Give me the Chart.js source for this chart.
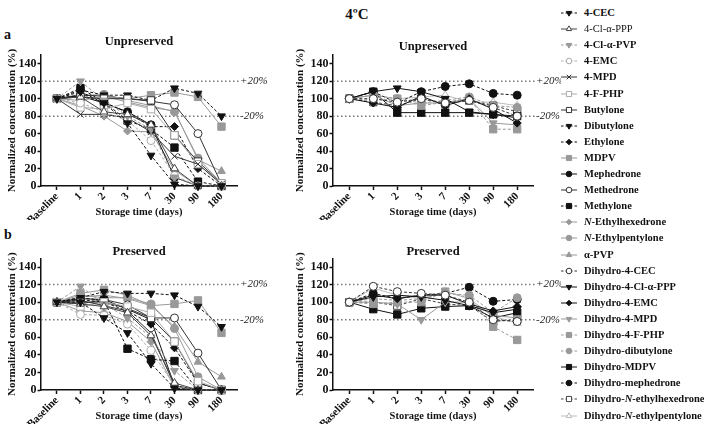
<!DOCTYPE html>
<html>
<head>
<meta charset="utf-8">
<script src="https://cdn.jsdelivr.net/npm/chart.js@4.4.1/dist/chart.umd.min.js"></script>
<style>
  body { margin: 0; background: #fff; width: 704px; height: 437px; position: relative; overflow: hidden; font-family: 'Liberation Serif', serif; color: #111; }
  canvas.panel { position: absolute; }
  .lbl { position: absolute; font-weight: bold; }
  #legend { position: absolute; left: 558px; top: 0; }
  .row { position: absolute; left: 0; height: 16px; line-height: 16px; white-space: nowrap; font-size: 10.5px; font-weight: bold; }
  .row canvas { position: absolute; left: 0; top: 2px; }
  .row span { position: absolute; left: 26px; }
</style>
</head>
<body>
<div class="lbl" style="left:307px;top:5px;width:100px;text-align:center;font-size:15px;line-height:18px;">4ºC</div>
<div class="lbl" style="left:4px;top:27px;font-size:14px;">a</div>
<div class="lbl" style="left:4px;top:227px;font-size:14px;">b</div>
<canvas class="panel" id="c1"></canvas>
<canvas class="panel" id="c2"></canvas>
<canvas class="panel" id="c3"></canvas>
<canvas class="panel" id="c4"></canvas>
<div id="legend"></div>
<script>
const timeLabels = ['Baseline', '1', '2', '3', '7', '30', '90', '180'];
const yTickValues = [0, 20, 40, 60, 80, 100, 120, 140];
const refLevels = [120, 80];
const refLabels = ['+20%', '-20%'];

const parentNames = ['4-CEC', '4-Cl-α-PPP', '4-Cl-α-PVP', '4-EMC', '4-MPD', '4-F-PHP', 'Butylone', 'Dibutylone',
  'Ethylone', 'MDPV', 'Mephedrone', 'Methedrone', 'Methylone', 'N-Ethylhexedrone', 'N-Ethylpentylone', 'α-PVP'];
const dihydroNames = ['Dihydro-4-CEC', 'Dihydro-4-Cl-α-PPP', 'Dihydro-4-EMC', 'Dihydro-4-MPD', 'Dihydro-4-F-PHP',
  'Dihydro-dibutylone', 'Dihydro-MDPV', 'Dihydro-mephedrone', 'Dihydro-N-ethylhexedrone', 'Dihydro-N-ethylpentylone'];

// one row per compound, columns follow timeLabels
const parentUnpreserved = [
  [100, 108, 95, 72, 35, 2, 0, 0],
  [100, 102, 85, 82, 70, 20, 0, 0],
  [100, 120, 98, 80, 65, 10, 0, 0],
  [100, 95, 85, 75, 52, 12, 0, 0],
  [100, 82, 82, 78, 62, 34, 25, 2],
  [100, 90, 88, 95, 88, 58, 25, 3],
  [100, 102, 100, 100, 98, 58, 28, 3],
  [100, 110, 104, 104, 98, 112, 106, 80],
  [100, 104, 96, 84, 68, 68, 20, 0],
  [100, 98, 103, 100, 104, 107, 102, 68],
  [100, 103, 95, 85, 70, 10, 0, 0],
  [100, 104, 103, 100, 97, 93, 60, 2],
  [100, 112, 96, 75, 65, 44, 5, 0],
  [100, 92, 80, 63, 62, 18, 0, 0],
  [100, 103, 105, 98, 92, 85, 32, 3],
  [100, 105, 103, 96, 90, 86, 30, 17]
];
const parentPreserved = [
  [100, 100, 82, 65, 30, 2, 0, 0],
  [100, 98, 95, 88, 62, 8, 0, 0],
  [100, 118, 98, 82, 60, 22, 0, 0],
  [100, 86, 85, 75, 45, 5, 0, 0],
  [100, 102, 96, 90, 65, 5, 0, 0],
  [100, 95, 100, 95, 88, 55, 10, 0],
  [100, 100, 100, 93, 82, 55, 8, 0],
  [100, 105, 112, 110, 110, 108, 95, 72],
  [100, 103, 100, 90, 75, 48, 8, 0],
  [100, 110, 114, 108, 96, 98, 102, 65],
  [100, 104, 103, 92, 80, 5, 0, 0],
  [100, 98, 103, 97, 82, 82, 42, 0],
  [100, 105, 102, 47, 35, 33, 0, 0],
  [100, 90, 88, 78, 55, 3, 0, 0],
  [100, 108, 105, 105, 98, 70, 15, 0],
  [100, 106, 108, 104, 96, 72, 32, 15]
];
const dihydroUnpreserved = [
  [100, 100, 96, 100, 95, 98, 90, 80],
  [100, 108, 112, 108, 100, 85, 82, 78],
  [100, 95, 90, 103, 92, 100, 88, 72],
  [100, 104, 92, 95, 95, 100, 72, 70],
  [100, 98, 100, 92, 96, 100, 65, 65],
  [100, 104, 100, 95, 98, 102, 92, 90],
  [100, 108, 84, 84, 84, 84, 82, 80],
  [100, 108, 95, 108, 114, 117, 106, 104],
  [100, 96, 92, 100, 94, 98, 92, 85],
  [100, 104, 100, 102, 104, 96, 96, 92]
];
const dihydroPreserved = [
  [100, 118, 112, 110, 108, 100, 80, 78],
  [100, 106, 108, 106, 102, 96, 88, 92],
  [100, 108, 104, 108, 108, 98, 90, 95],
  [100, 100, 98, 80, 100, 100, 85, 82],
  [100, 98, 100, 100, 112, 105, 72, 57],
  [100, 104, 102, 104, 110, 108, 88, 105],
  [100, 92, 86, 93, 95, 96, 82, 88],
  [100, 110, 104, 108, 110, 117, 101, 103],
  [100, 100, 96, 104, 98, 96, 78, 80],
  [100, 116, 108, 104, 112, 104, 84, 76]
];

// marker / line look per compound
const parentStyles = [
  {c: '#111', shape: 'triangle', rot: 180, r: 4.5, dash: true},
  {c: '#444', shape: 'triangle', r: 4.5, open: true, light: true},
  {c: '#999', shape: 'triangle', rot: 180, r: 4.5, dash: true},
  {c: '#aaa', shape: 'circle', r: 4, open: true, dash: true},
  {c: '#333', shape: 'crossRot', r: 4.5},
  {c: '#aaa', shape: 'rect', r: 5.2, open: true},
  {c: '#333', shape: 'rect', r: 5.2, open: true},
  {c: '#111', shape: 'triangle', rot: 180, r: 4.5, dash: true},
  {c: '#111', shape: 'rectRot', r: 4, dash: true},
  {c: '#999', shape: 'rect', r: 5.2},
  {c: '#111', shape: 'circle', r: 4},
  {c: '#333', shape: 'circle', r: 4, open: true},
  {c: '#111', shape: 'rect', r: 5.2, dash: true},
  {c: '#999', shape: 'rectRot', r: 4},
  {c: '#999', shape: 'circle', r: 4},
  {c: '#999', shape: 'triangle', r: 4.5}
];
const dihydroStyles = [
  {c: '#333', shape: 'circle', r: 4, open: true, dash: true},
  {c: '#111', shape: 'triangle', rot: 180, r: 4.5},
  {c: '#111', shape: 'rectRot', r: 4},
  {c: '#999', shape: 'triangle', rot: 180, r: 4.5},
  {c: '#999', shape: 'rect', r: 5.2, dash: true},
  {c: '#999', shape: 'circle', r: 4, dash: true},
  {c: '#111', shape: 'rect', r: 5.2},
  {c: '#111', shape: 'circle', r: 4, dash: true},
  {c: '#444', shape: 'rect', r: 5.2, open: true, dash: true},
  {c: '#bbb', shape: 'triangle', r: 4.5, open: true}
];

const FONT = 'Liberation Serif';

const refLines = {
  id: 'refLines',
  beforeDatasetsDraw(chart) {
    const {ctx, chartArea, scales: {y}} = chart;
    ctx.save();
    ctx.strokeStyle = '#777';
    ctx.lineWidth = 1.5;
    ctx.setLineDash([1.5, 2.5]);
    ctx.font = 'italic 11px "' + FONT + '"';
    ctx.fillStyle = '#222';
    ctx.textBaseline = 'middle';
    refLevels.forEach((lv, i) => {
      const py = y.getPixelForValue(lv);
      ctx.beginPath();
      ctx.moveTo(chartArea.left, py);
      ctx.lineTo(chartArea.right + 2, py);
      ctx.stroke();
      ctx.fillText(refLabels[i], chartArea.right + 3, py);
    });
    ctx.restore();
  }
};

function makeDataset(name, values, st) {
  return {
    label: name,
    data: values.map((v, i) => ({x: i, y: v})),
    borderColor: st.c,
    borderWidth: 1,
    borderDash: st.dash ? [3, 2] : [],
    pointStyle: st.shape,
    pointRotation: st.rot || 0,
    pointRadius: st.r,
    pointHoverRadius: st.r,
    pointBackgroundColor: st.open ? '#fff' : st.c,
    pointBorderColor: st.c,
    pointBorderWidth: 1,
    tension: 0,
    clip: false
  };
}

function makePanel(p) {
  const canvasTop = p.chartTop - 34;
  const height = p.chartBottom - canvasTop + 34;
  const width = p.chartRight - p.left + p.padRight;
  const cv = document.getElementById(p.id);
  cv.width = width;
  cv.height = height;
  cv.style.left = p.left + 'px';
  cv.style.top = canvasTop + 'px';
  cv.style.width = width + 'px';
  cv.style.height = height + 'px';
  const padTop = p.titleY - canvasTop - 6.25;

  new Chart(cv, {
    type: 'line',
    data: {
      datasets: p.names.map((n, i) => makeDataset(n, p.values[i], p.styles[i]))
    },
    options: {
      responsive: false,
      animation: false,
      layout: {padding: {left: 0, right: p.padRight, top: 0, bottom: 0}},
      plugins: {
        legend: {display: false},
        tooltip: {enabled: false},
        title: {
          display: true,
          text: p.title,
          fullSize: false,
          color: '#111',
          font: {family: FONT, size: 12.5, weight: 'bold', lineHeight: 1},
          padding: {top: padTop, bottom: Math.max(0, 21.5 - padTop)}
        }
      },
      scales: {
        x: {
          type: 'linear',
          min: -0.68,
          max: 7.66,
          afterBuildTicks: (s) => { s.ticks = timeLabels.map((_, i) => ({value: i})); },
          afterFit: (s) => { s.height = 34; },
          ticks: {
            callback: (v) => timeLabels[v],
            minRotation: 45,
            maxRotation: 45,
            padding: 0,
            color: '#111',
            font: {family: FONT, size: 11, weight: 'bold'}
          },
          grid: {drawOnChartArea: false, tickLength: 4, tickWidth: 1.5, tickColor: '#111'},
          border: {color: '#111', width: 1.5},
          title: {
            display: true,
            text: 'Storage time (days)',
            color: '#111',
            font: {family: FONT, size: 10.5, weight: 'bold'},
            padding: {top: 0, bottom: 1}
          }
        },
        y: {
          min: 0,
          max: 150,
          afterBuildTicks: (s) => { s.ticks = yTickValues.map(v => ({value: v})); },
          afterFit: (s) => { s.width = p.yWidth; },
          ticks: {
            padding: 1,
            color: '#111',
            font: {family: FONT, size: 12, weight: 'bold'}
          },
          grid: {drawOnChartArea: false, tickLength: 3.5, tickWidth: 1.5, tickColor: '#111'},
          border: {color: '#111', width: 1.5},
          title: {
            display: true,
            text: 'Normalized concentration (%)',
            color: '#111',
            font: {family: FONT, size: 11, weight: 'bold'},
            padding: {top: 5.5, bottom: 0}
          }
        }
      }
    },
    plugins: [refLines]
  });
}

makePanel({id: 'c1', left: 0, yWidth: 41, chartRight: 237, padRight: 35, chartTop: 55, chartBottom: 186,
  titleY: 42, title: 'Unpreserved', names: parentNames, values: parentUnpreserved, styles: parentStyles});
makePanel({id: 'c2', left: 288, yWidth: 45, chartRight: 533, padRight: 28, chartTop: 55, chartBottom: 186,
  titleY: 47, title: 'Unpreserved', names: dihydroNames, values: dihydroUnpreserved, styles: dihydroStyles});
makePanel({id: 'c3', left: 0, yWidth: 41, chartRight: 237, padRight: 35, chartTop: 258, chartBottom: 390,
  titleY: 252, title: 'Preserved', names: parentNames, values: parentPreserved, styles: parentStyles});
makePanel({id: 'c4', left: 288, yWidth: 45, chartRight: 533, padRight: 28, chartTop: 258, chartBottom: 390,
  titleY: 252, title: 'Preserved', names: dihydroNames, values: dihydroPreserved, styles: dihydroStyles});

// legend: line sample + marker, then the name
function buildLegend() {
  const box = document.getElementById('legend');
  const names = parentNames.concat(dihydroNames);
  const styles = parentStyles.concat(dihydroStyles);
  const drawPoint = Chart.helpers && Chart.helpers.drawPoint;
  names.forEach((name, i) => {
    const row = document.createElement('div');
    row.className = 'row';
    row.style.top = (13 + i * 16.1 - 8) + 'px';
    const cv = document.createElement('canvas');
    cv.width = 22; cv.height = 12;
    const ctx = cv.getContext('2d');
    const st = styles[i];
    ctx.strokeStyle = st.c;
    ctx.lineWidth = 1;
    ctx.setLineDash(st.dash ? [2.5, 2] : []);
    ctx.beginPath(); ctx.moveTo(3, 6); ctx.lineTo(19, 6); ctx.stroke();
    ctx.setLineDash([]);
    ctx.fillStyle = st.open ? '#fff' : st.c;
    const r = st.r * 0.7;
    if (drawPoint) {
      drawPoint(ctx, {pointStyle: st.shape, rotation: st.rot || 0, radius: r, borderWidth: 1}, 11, 6);
    } else {
      ctx.beginPath(); ctx.arc(11, 6, r, 0, Math.PI * 2); ctx.fill(); ctx.stroke();
    }
    const sp = document.createElement('span');
    sp.innerHTML = name.replace('N-', '<i>N</i>-');
    if (st.light) sp.style.fontWeight = 'normal';
    row.appendChild(cv);
    row.appendChild(sp);
    box.appendChild(row);
  });
}
buildLegend();
</script>
</body>
</html>
